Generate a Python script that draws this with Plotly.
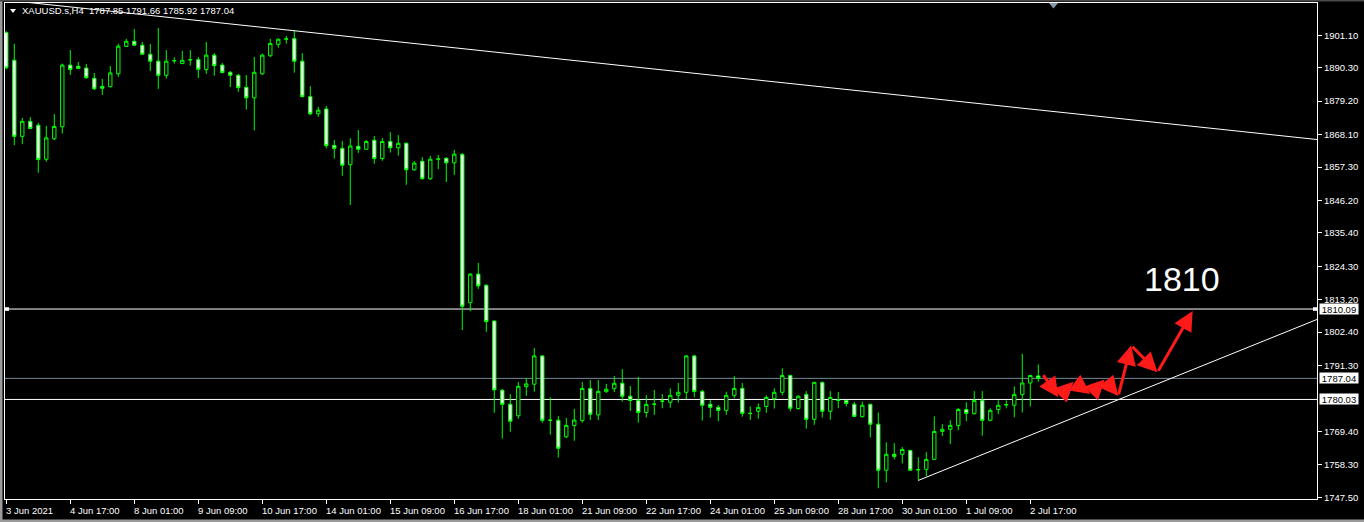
import plotly.graph_objects as go

# XAUUSD.s H4 bars, first bar 3 Jun 2021 09:00, one entry per bar
OPEN = [1902.0, 1892.8, 1867.5, 1872.5, 1871.2, 1859.9, 1866.7, 1870.7, 1891.2, 1890.8,
        1890.2, 1886.8, 1884.1, 1884.0, 1888.3, 1897.4, 1899.1, 1897.8, 1894.8, 1892.5,
        1887.8, 1892.6, 1891.7, 1892.9, 1893.0, 1889.7, 1894.5, 1891.2, 1888.8, 1887.8,
        1883.8, 1880.3, 1888.3, 1894.3, 1898.1, 1899.8, 1900.0, 1892.5, 1880.7, 1875.0,
        1876.6, 1864.5, 1863.5, 1858.1, 1864.2, 1863.2, 1866.2, 1860.1, 1865.8, 1863.7,
        1865.2, 1856.4, 1859.2, 1853.4, 1859.9, 1860.2, 1858.7, 1861.5, 1812.2, 1821.7,
        1818.0, 1806.1, 1783.1, 1778.4, 1774.6, 1784.3, 1785.1, 1794.5, 1773.2, 1773.1,
        1767.6, 1771.4, 1773.0, 1783.7, 1774.9, 1782.6, 1783.6, 1785.4, 1781.1, 1779.7,
        1775.7, 1778.4, 1779.4, 1779.1, 1781.4, 1782.4, 1794.5, 1782.7, 1778.4, 1777.4,
        1776.4, 1781.4, 1783.7, 1775.3, 1776.1, 1777.7, 1780.3, 1782.4, 1788.0, 1777.0,
        1781.7, 1773.4, 1785.7, 1776.1, 1779.7, 1779.7, 1778.4, 1774.3, 1778.4, 1771.8,
        1756.5, 1761.8, 1761.8, 1763.1, 1756.6, 1756.8, 1760.1, 1769.4, 1770.1, 1771.4,
        1776.7, 1775.3, 1779.7, 1773.1, 1776.7, 1778.2, 1778.1, 1781.7, 1785.5, 1787.85]
HIGH = [1902.5, 1898.3, 1873.6, 1873.9, 1872.0, 1871.0, 1874.9, 1891.7, 1896.2, 1892.2,
        1891.6, 1888.6, 1886.6, 1890.9, 1898.3, 1899.9, 1903.2, 1898.9, 1898.2, 1903.5,
        1896.2, 1893.8, 1895.9, 1896.2, 1893.9, 1898.9, 1895.2, 1891.9, 1889.2, 1888.3,
        1887.9, 1893.9, 1895.0, 1899.9, 1900.0, 1900.9, 1902.6, 1895.2, 1884.2, 1877.3,
        1877.6, 1866.3, 1866.0, 1866.9, 1869.6, 1866.3, 1867.6, 1866.9, 1868.9, 1867.9,
        1865.4, 1859.3, 1860.6, 1861.0, 1861.3, 1860.6, 1863.0, 1862.0, 1822.1, 1825.4,
        1818.3, 1806.3, 1783.5, 1781.8, 1785.8, 1787.1, 1797.1, 1794.8, 1780.7, 1774.5,
        1773.9, 1776.9, 1785.8, 1786.5, 1786.5, 1785.2, 1787.8, 1790.1, 1784.5, 1787.5,
        1781.5, 1783.2, 1781.8, 1783.7, 1785.5, 1794.8, 1794.8, 1783.2, 1779.8, 1778.2,
        1782.6, 1787.8, 1785.5, 1777.7, 1778.7, 1781.4, 1783.7, 1790.4, 1788.2, 1781.4,
        1782.8, 1785.9, 1786.0, 1782.8, 1782.5, 1779.8, 1779.3, 1779.3, 1778.6, 1775.7,
        1765.8, 1765.5, 1764.2, 1763.2, 1760.8, 1762.5, 1774.4, 1771.8, 1773.1, 1777.2,
        1779.1, 1782.8, 1782.8, 1777.1, 1779.7, 1779.7, 1784.4, 1795.2, 1788.2, 1791.66]
LOW = [1889.8, 1864.6, 1864.9, 1870.1, 1855.4, 1859.1, 1866.3, 1868.4, 1887.9, 1890.1,
       1886.6, 1882.9, 1881.3, 1883.8, 1887.3, 1897.4, 1897.8, 1894.8, 1889.3, 1883.3,
       1886.7, 1891.7, 1891.7, 1891.0, 1886.9, 1888.3, 1887.7, 1888.5, 1883.9, 1882.3,
       1876.4, 1869.5, 1887.9, 1893.9, 1897.0, 1898.3, 1888.7, 1880.5, 1874.5, 1874.0,
       1863.5, 1860.1, 1854.4, 1844.7, 1862.0, 1863.2, 1858.4, 1859.4, 1862.1, 1861.1,
       1851.4, 1856.0, 1853.2, 1853.0, 1856.6, 1852.3, 1854.7, 1803.1, 1809.4, 1816.8,
       1802.5, 1775.6, 1767.0, 1769.3, 1773.6, 1781.2, 1782.6, 1772.3, 1768.3, 1760.7,
       1767.2, 1766.3, 1772.3, 1773.2, 1773.2, 1782.3, 1782.5, 1779.3, 1776.2, 1772.3,
       1774.0, 1774.9, 1777.1, 1777.3, 1779.0, 1780.1, 1780.8, 1773.0, 1774.0, 1772.8,
       1774.9, 1780.4, 1774.3, 1773.2, 1773.6, 1775.6, 1777.0, 1781.4, 1776.1, 1776.6,
       1770.3, 1771.6, 1774.0, 1773.3, 1777.1, 1777.7, 1774.2, 1774.0, 1767.4, 1750.5,
       1752.5, 1760.1, 1758.8, 1756.4, 1753.1, 1754.5, 1760.0, 1767.9, 1765.2, 1769.8,
       1772.8, 1775.0, 1768.0, 1772.8, 1775.1, 1777.1, 1774.1, 1775.7, 1777.7, 1785.92]
CLOSE = [1890.3, 1867.5, 1872.5, 1870.1, 1859.8, 1867.0, 1870.8, 1891.2, 1889.7, 1890.1,
         1887.0, 1883.3, 1883.5, 1888.6, 1897.5, 1899.1, 1897.8, 1894.8, 1892.5, 1887.8,
         1892.5, 1892.7, 1892.8, 1893.0, 1889.8, 1894.5, 1891.0, 1888.7, 1887.8, 1883.7,
         1880.3, 1888.8, 1894.5, 1898.4, 1899.8, 1899.9, 1892.5, 1880.7, 1875.0, 1876.2,
         1864.4, 1863.5, 1857.9, 1864.3, 1863.2, 1865.8, 1860.1, 1865.8, 1863.7, 1865.2,
         1856.4, 1858.6, 1853.4, 1859.9, 1860.0, 1858.7, 1861.6, 1811.0, 1821.7, 1817.8,
         1805.9, 1783.2, 1778.4, 1772.8, 1784.4, 1785.2, 1794.5, 1773.1, 1773.1, 1763.8,
         1771.4, 1773.2, 1783.7, 1775.1, 1782.7, 1783.4, 1785.4, 1781.1, 1779.7, 1775.7,
         1778.4, 1778.5, 1779.5, 1781.4, 1782.4, 1794.5, 1782.7, 1778.1, 1777.4, 1776.4,
         1781.4, 1783.7, 1775.4, 1775.4, 1777.4, 1780.7, 1782.4, 1788.0, 1777.1, 1781.1,
         1773.4, 1785.7, 1776.1, 1780.7, 1779.8, 1778.7, 1774.4, 1778.1, 1771.8, 1756.5,
         1761.8, 1761.1, 1763.4, 1756.5, 1756.7, 1760.1, 1769.4, 1770.1, 1771.4, 1776.7,
         1775.4, 1779.7, 1773.1, 1776.4, 1778.1, 1778.3, 1781.7, 1785.5, 1788.0, 1787.04]

TIME_TICK_BARS = [0, 8, 16, 24, 32, 40, 48, 56, 64, 72, 80, 88, 96, 104, 112, 120, 128]
TIME_TICK_LABELS = ["3 Jun 2021", "4 Jun 17:00", "8 Jun 01:00", "9 Jun 09:00", "10 Jun 17:00",
                    "14 Jun 01:00", "15 Jun 09:00", "16 Jun 17:00", "18 Jun 01:00",
                    "21 Jun 09:00", "22 Jun 17:00", "24 Jun 01:00", "25 Jun 09:00",
                    "28 Jun 17:00", "30 Jun 01:00", "1 Jul 09:00", "2 Jul 17:00"]
PRICE_TICKS = [1901.10, 1890.30, 1879.20, 1868.10, 1857.30, 1846.20, 1835.40, 1824.30,
               1813.20, 1802.40, 1791.30, 1769.40, 1758.30, 1747.50]

RESISTANCE = 1810.09
BID = 1787.04
SUPPORT = 1780.03

UPPER_TREND_BARS = [0, 164]
UPPER_TREND_PRICES = [1912.8, 1866.4]
LOWER_TREND_BARS = [114, 164]
LOWER_TREND_PRICES = [1753.1, 1806.8]

# hand-drawn forecast zigzag
PATH_BARS = [129.5, 131.5, 133.4, 135.5, 137.3, 139.0, 140.6, 143.9, 148.3]
PATH_PRICES = [1788.6, 1780.8, 1785.9, 1781.8, 1786.7, 1781.2, 1798.0, 1789.1, 1809.4]
TARGET_TEXT = "1810"

HEADER = "XAUUSD.s,H4\u00a0 1787.85 1791.66 1785.92 1787.04"

GREEN = "#00ff00"
FONT = "Liberation Sans"

# plot area in pixels: x 5..1317, y 3..499
PL, PR, PT, PB = 5, 1317, 3, 499


def px_x(px):
    return (px - PL) / (PR - PL)


def px_y(py):
    return (PB - py) / (PB - PT)


bars = list(range(len(OPEN)))

fig = go.Figure()

fig.add_trace(go.Candlestick(
    x=bars, open=OPEN, high=HIGH, low=LOW, close=CLOSE,
    increasing=dict(line=dict(color=GREEN, width=1), fillcolor="#000000"),
    decreasing=dict(line=dict(color=GREEN, width=1), fillcolor="#ffffff"),
    whiskerwidth=0,
    showlegend=False,
))

fig.add_trace(go.Scatter(x=UPPER_TREND_BARS, y=UPPER_TREND_PRICES, mode="lines",
                         line=dict(color="#ffffff", width=1), showlegend=False, hoverinfo="skip"))
fig.add_trace(go.Scatter(x=LOWER_TREND_BARS, y=LOWER_TREND_PRICES, mode="lines",
                         line=dict(color="#ffffff", width=1), showlegend=False, hoverinfo="skip"))

# horizontal levels
for level, color in [(RESISTANCE, "#ffffff"), (BID, "#778899"), (SUPPORT, "#ffffff")]:
    fig.add_shape(type="line", xref="paper", x0=0, x1=1, yref="y", y0=level, y1=level,
                  line=dict(color=color, width=1), layer="below")
    fig.add_annotation(xref="paper", x=1, xanchor="left", xshift=2, yref="y", y=level,
                       text=f"{level:.2f}", showarrow=False, bgcolor="#ffffff",
                       font=dict(family=FONT, size=9.5, color="#000000"),
                       width=38, height=10, borderpad=0, align="center")

# selection handles on the 1810.09 line
for x0, x1 in [(0, px_x(9)), (px_x(1313), 1)]:
    fig.add_shape(type="rect", xref="paper", x0=x0, x1=x1, yref="y",
                  y0=RESISTANCE - 0.6, y1=RESISTANCE + 0.6,
                  fillcolor="#ffffff", line=dict(width=0))

# forecast arrows
for i in range(len(PATH_BARS) - 1):
    fig.add_annotation(x=PATH_BARS[i + 1], y=PATH_PRICES[i + 1],
                       ax=PATH_BARS[i], ay=PATH_PRICES[i], axref="x", ayref="y",
                       xref="x", yref="y", text="", showarrow=True,
                       arrowhead=2, arrowsize=1.3, arrowwidth=3, arrowcolor="#ff1a1a")

fig.add_annotation(x=147, y=1820.1, xref="x", yref="y", text=TARGET_TEXT, showarrow=False,
                   font=dict(family=FONT, size=34, color="#ffffff"))

# header
fig.add_annotation(xref="paper", yref="paper", x=px_x(20), y=px_y(11), xanchor="left",
                   yanchor="middle", text=HEADER, showarrow=False,
                   font=dict(family=FONT, size=9.5, color="#ffffff"))
fig.add_shape(type="path", xref="paper", yref="paper",
              path=f"M {px_x(10)},{px_y(9)} L {px_x(16)},{px_y(9)} L {px_x(13)},{px_y(13)} Z",
              fillcolor="#ffffff", line=dict(width=0))

# chart-shift marker
fig.add_shape(type="path", xref="paper", yref="paper",
              path=f"M {px_x(1049)},{px_y(3)} L {px_x(1058)},{px_y(3)} L {px_x(1053.5)},{px_y(8.5)} Z",
              fillcolor="#8a9aa8", line=dict(width=0))

# time labels, left-aligned at their tick like the terminal does
for b, label in zip(TIME_TICK_BARS, TIME_TICK_LABELS):
    fig.add_annotation(x=b, xref="x", y=0, yref="paper", yanchor="top", xanchor="left",
                       xshift=-2, yshift=-4, text=label, showarrow=False,
                       font=dict(family=FONT, size=9.5, color="#ffffff"))

# window frame
fig.add_shape(type="rect", xref="paper", yref="paper", x0=px_x(0), x1=px_x(2.5),
              y0=px_y(522), y1=px_y(0), fillcolor="#9a9a9a", line=dict(width=0))
fig.add_shape(type="rect", xref="paper", yref="paper", x0=px_x(0), x1=px_x(1364),
              y0=px_y(522), y1=px_y(519.5), fillcolor="#9a9a9a", line=dict(width=0))
fig.add_shape(type="rect", xref="paper", yref="paper", x0=px_x(0), x1=px_x(1364),
              y0=px_y(1.5), y1=px_y(0), fillcolor="#4a4a4a", line=dict(width=0))

fig.update_layout(
    width=1364, height=522,
    margin=dict(l=PL, r=1364 - PR, t=PT, b=522 - PB),
    paper_bgcolor="#000000", plot_bgcolor="#000000",
    boxgap=0.4,
    showlegend=False,
    xaxis=dict(range=[-0.16, 163.84], rangeslider=dict(visible=False), showgrid=False,
               zeroline=False, showline=True, mirror=True, linecolor="#ffffff", linewidth=1,
               tickmode="array", tickvals=TIME_TICK_BARS, showticklabels=False,
               ticks="outside", ticklen=4, tickcolor="#ffffff"),
    yaxis=dict(range=[1746.93, 1911.84], side="right", showgrid=False, zeroline=False,
               showline=True, mirror=True, linecolor="#ffffff", linewidth=1,
               tickmode="array", tickvals=PRICE_TICKS,
               ticktext=[f"{p:.2f}" for p in PRICE_TICKS],
               ticks="outside", ticklen=4, tickcolor="#ffffff",
               tickfont=dict(family=FONT, size=9.5, color="#ffffff")),
)

# the page's default body margin would offset the whole chart by 8px
fig.write_html("out.html", config={"displayModeBar": False},
               post_script="document.body.style.margin='0';document.body.style.background='#000';")
